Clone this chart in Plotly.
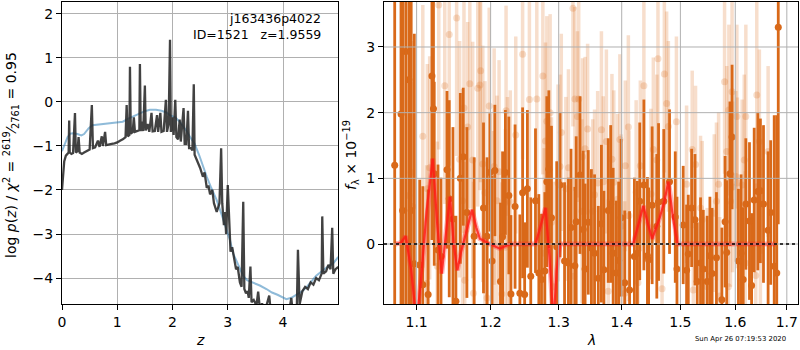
import math
import plotly.graph_objects as go

# ---------------- left panel: p(z) ----------------
z_pz = [0.00, 0.02, 0.04, 0.07, 0.10, 0.12, 0.13, 0.14, 0.17, 0.20, 0.235, 0.25, 0.28, 0.30, 0.32, 0.36,
        0.40, 0.45, 0.50, 0.54, 0.56, 0.60, 0.65, 0.68, 0.72, 0.74, 0.78, 0.80, 0.85, 0.90, 0.95, 1.00,
        1.05, 1.10, 1.15, 1.17, 1.19, 1.22, 1.23, 1.245, 1.28, 1.30, 1.32, 1.36, 1.40, 1.41, 1.425, 1.45,
        1.47, 1.50, 1.515, 1.55, 1.58, 1.62, 1.64, 1.68, 1.72, 1.74, 1.78, 1.80, 1.84, 1.88, 1.90, 1.93,
        1.955, 1.97, 2.00, 2.02, 2.05, 2.07, 2.10, 2.13, 2.15, 2.20, 2.22, 2.25, 2.28, 2.30, 2.33, 2.36,
        2.385, 2.40, 2.45, 2.50, 2.55, 2.58, 2.62, 2.65, 2.68, 2.72, 2.75, 2.80, 2.85, 2.88, 2.90, 2.93,
        2.95, 2.97, 3.00, 3.02, 3.05, 3.08, 3.12, 3.15, 3.18, 3.22, 3.25, 3.28, 3.30, 3.33, 3.36, 3.38,
        3.41, 3.43, 3.47, 3.52, 3.55, 3.58, 3.62, 3.68, 3.75, 3.78, 3.85, 3.95, 4.05, 4.10, 4.15, 4.18,
        4.25, 4.27, 4.30, 4.35, 4.40, 4.45, 4.50, 4.55, 4.60, 4.65, 4.70, 4.71, 4.73, 4.78, 4.82, 4.86,
        4.89, 4.91, 4.95, 5.00]
logp = [-2.00, -1.60, -1.35, -1.22, -1.17, -1.15, -0.42, -1.15, -1.18, -1.16, -0.25, -1.15, -1.12, -0.80, -1.15, -1.18,
        -1.15, -1.12, -1.08, -0.07, -1.05, -1.03, -0.88, -1.02, -0.78, -1.00, -0.68, -0.98, -0.96, -0.95, -0.94, -0.92,
        -0.88, -0.85, -0.80, -0.07, -0.78, -0.75, 0.80, -0.72, -0.68, -0.35, -0.68, -0.66, -0.64, 0.86, -0.66, -0.45,
        -0.66, 0.37, -0.65, -0.50, -0.68, -0.25, -0.67, -0.66, -0.30, -0.68, -0.25, -0.68, -0.66, 0.05, -0.68, -0.50,
        1.41, -0.68, -0.35, -0.75, 0.05, -0.80, -0.85, -0.40, -0.90, -0.14, -0.95, -0.95, -0.20, -1.05, -1.05, -1.10,
        0.40, -1.20, -1.35, -1.50, -1.70, -1.60, -1.95, -1.90, -2.10, -2.00, -2.30, -2.50, -2.30, -1.05, -2.30, -2.80,
        -2.50, -3.00, -1.89, -2.60, -3.40, -3.30, -3.55, -3.80, -3.75, -4.10, -4.20, -2.27, -4.25, -4.35, -4.30, -4.45,
        -3.74, -4.55, -4.50, -4.62, -4.31, -4.68, -4.58, -4.72, -4.40, -4.78, -4.85, -4.90, -4.80, -4.85, -4.45, -4.85,
        -4.70, -3.36, -4.60, -4.30, -4.20, -4.25, -4.10, -4.15, -4.00, -4.05, -3.90, -2.60, -3.90, -3.85, -3.70, -3.80,
        -2.86, -3.90, -3.80, -3.75]

z_smooth = [0.00, 0.05, 0.10, 0.15, 0.20, 0.28, 0.35, 0.40, 0.48, 0.55, 0.62, 0.75, 0.85, 0.99, 1.10, 1.20,
            1.29, 1.40, 1.50, 1.59, 1.70, 1.80, 1.89, 1.95, 2.05, 2.13, 2.25, 2.32, 2.40, 2.48, 2.55, 2.62,
            2.70, 2.80, 2.90, 3.00, 3.04, 3.10, 3.20, 3.28, 3.35, 3.45, 3.58, 3.70, 3.80, 3.90, 4.00, 4.06,
            4.15, 4.25, 4.35, 4.43, 4.50, 4.60, 4.73, 4.80, 4.90, 5.00]
logp_smooth = [-1.12, -0.95, -0.80, -0.72, -0.71, -0.73, -0.76, -0.73, -0.60, -0.53, -0.52, -0.50, -0.50, -0.48, -0.45, -0.38,
               -0.33, -0.27, -0.21, -0.18, -0.18, -0.20, -0.24, -0.30, -0.35, -0.45, -0.65, -0.80, -0.95, -1.20, -1.47, -1.70,
               -1.95, -2.23, -2.60, -3.00, -3.14, -3.45, -3.75, -3.95, -4.05, -4.10, -4.17, -4.25, -4.33, -4.38, -4.44, -4.48,
               -4.45, -4.38, -4.30, -4.20, -4.10, -3.95, -3.82, -3.75, -3.68, -3.52]

z_ticks = [0, 1, 2, 3, 4]
logp_ticks = [-4, -3, -2, -1, 0, 1, 2]

# ---------------- right panel: 1D spectrum ----------------
wave_dark = [1.072, 1.080, 1.082, 1.086, 1.090, 1.093, 1.097, 1.104, 1.108, 1.115, 1.120, 1.122, 1.123, 1.128, 1.132,
             1.140, 1.143, 1.148, 1.152, 1.158, 1.162, 1.167, 1.177, 1.190, 1.195, 1.199, 1.202, 1.206, 1.214, 1.217,
             1.221, 1.226, 1.229, 1.235, 1.242, 1.246, 1.249, 1.253, 1.258, 1.265, 1.270, 1.274, 1.279, 1.282, 1.285,
             1.289, 1.297, 1.302, 1.309, 1.315, 1.319, 1.325, 1.327, 1.333, 1.338, 1.341, 1.346, 1.351, 1.356, 1.362,
             1.367, 1.371, 1.378, 1.382, 1.386, 1.391, 1.395, 1.399, 1.405, 1.413, 1.421, 1.426, 1.430, 1.437, 1.443,
             1.445, 1.451, 1.459, 1.462, 1.471, 1.481, 1.491, 1.494, 1.505, 1.511, 1.514, 1.520, 1.526, 1.530, 1.536,
             1.541, 1.548, 1.553, 1.557, 1.565, 1.575, 1.581, 1.584, 1.590, 1.594, 1.606, 1.611, 1.615, 1.620, 1.627,
             1.631, 1.636, 1.643, 1.648, 1.654, 1.663, 1.668, 1.675, 1.680, 1.683]
flux_dark = [1.20, 1.98, 0.51, 2.93, 2.50, 0.51, -0.30, -0.32, -0.62, -0.77, 2.56, 2.06, 1.07, -0.09, -0.19,
             1.13, 0.69, 0.38, -0.87, 1.00, 1.33, 0.48, 0.12, 0.55, 0.12, 1.09, -0.26, 1.12, -0.57, 0.11,
             1.09, 0.74, -0.76, 0.57, -0.75, 0.78, -0.77, 0.84, -0.49, 0.66, -0.44, -0.54, -0.41, 0.95, 1.14,
             0.40, -0.04, 0.90, -0.26, -0.29, 0.25, -0.33, 0.34, 1.05, 0.22, -0.38, 0.33, -0.06, -0.14, -0.52,
             0.31, -0.39, 0.51, 0.61, -0.14, -0.44, -0.25, 0.40, -0.59, -0.70, -0.19, -0.14, 0.65, 0.90, -0.18,
             -0.24, 0.59, 0.27, 0.64, 0.65, 0.95, 0.41, -0.38, 0.29, -0.40, -0.15, 0.55, 0.37, -0.57, -0.29,
             -0.38, -0.57, -0.18, -0.45, -0.21, -0.85, 0.34, -0.13, 1.07, 1.63, -0.26, -0.14, -0.54, 0.61, 0.35,
             -0.63, 0.67, 0.80, 0.81, 0.61, 0.21, 0.48, -0.34, -0.44, 3.30]
err_dark = [4.0, 4.0, 4.0, 4.0, 4.0, 4.0, 3.5, 1.3, 1.5, 1.6, 2.5, 1.8, 1.4, 1.3, 1.2,
            1.2, 1.5, 1.4, 1.3, 1.3, 1.05, 1.3, 1.2, 1.3, 1.2, 0.9, 1.3, 1.0, 1.2, 1.3,
            0.95, 1.2, 1.2, 1.25, 1.2, 1.3, 1.1, 1.2, 1.2, 1.1, 1.2, 1.0, 1.2, 1.3, 1.2,
            1.4, 1.3, 1.1, 1.2, 1.3, 1.2, 1.2, 1.3, 1.2, 1.2, 1.3, 1.1, 1.2, 1.2, 1.1,
            1.2, 1.2, 1.1, 1.2, 1.3, 1.1, 1.2, 1.2, 1.1, 1.2, 1.2, 1.1, 1.2, 1.3, 1.2,
            1.1, 1.2, 1.1, 1.2, 1.1, 1.1, 1.0, 1.1, 0.9, 1.0, 0.9, 0.9, 1.0, 0.9, 1.0,
            0.9, 1.0, 0.9, 1.0, 1.0, 1.1, 1.0, 1.1, 1.1, 1.1, 1.1, 1.2, 1.1, 1.0, 1.2,
            1.1, 1.1, 1.2, 1.1, 1.2, 1.2, 1.1, 2.3, 2.4, 3.0]

wave_light = [1.090, 1.093, 1.095, 1.108, 1.113, 1.114, 1.117, 1.127, 1.129, 1.137, 1.143, 1.153, 1.157, 1.161,
              1.163, 1.164, 1.168, 1.171, 1.175, 1.176, 1.182, 1.185, 1.186, 1.189, 1.192, 1.195, 1.198, 1.204,
              1.205, 1.209, 1.212, 1.216, 1.221, 1.222, 1.224, 1.228, 1.236, 1.246, 1.256, 1.267, 1.276, 1.278,
              1.280, 1.282, 1.287, 1.289, 1.292, 1.299, 1.302, 1.304, 1.311, 1.315, 1.322, 1.323, 1.325, 1.329,
              1.331, 1.336, 1.337, 1.341, 1.345, 1.353, 1.356, 1.361, 1.367, 1.370, 1.375, 1.378, 1.384, 1.387,
              1.393, 1.397, 1.399, 1.405, 1.406, 1.411, 1.412, 1.424, 1.427, 1.431, 1.437, 1.449, 1.453, 1.459,
              1.461, 1.468, 1.472, 1.476, 1.479, 1.493, 1.511, 1.521, 1.523, 1.527, 1.536, 1.539, 1.548, 1.561,
              1.565, 1.569, 1.571, 1.580, 1.584, 1.587, 1.588, 1.591, 1.594, 1.595, 1.601, 1.603, 1.604, 1.613,
              1.617, 1.619, 1.620, 1.639, 1.641, 1.646, 1.648, 1.663]
flux_light = [0.74, 1.09, 0.57, 1.64, -0.60, 0.84, 1.16, -0.34, 3.64, 2.41, 3.19, 3.44, 1.29, 0.66,
              2.07, -0.55, 1.78, 2.44, 1.28, -0.75, 2.37, 2.42, 2.64, 1.22, 0.78, -0.82, 2.10, 0.02,
              1.18, 0.66, 1.10, -0.76, -0.05, 2.03, 0.64, 0.64, 1.66, 2.89, 2.20, 2.21, 2.56, -0.14,
              1.57, 1.87, 2.00, 0.33, -0.65, 0.93, 1.18, 1.70, 0.84, 1.16, 3.59, -0.49, 2.21, 1.94,
              2.21, 0.50, 1.33, 1.45, 1.75, 0.50, 0.75, 0.93, 1.74, 0.95, 1.56, -0.72, 1.29, 0.94,
              0.68, 1.59, 0.27, -0.75, 1.19, 1.78, 0.43, 0.79, -0.59, 1.19, 2.41, 0.76, 1.44, 1.28,
              2.82, -0.68, 2.59, 2.14, 1.79, 1.86, 0.91, 1.44, -0.70, 1.21, 0.55, 0.37, -0.65, 0.47,
              0.65, 0.91, -0.79, 2.47, 1.41, -0.65, 2.04, 0.65, 2.32, 0.87, 1.03, 1.94, 0.93, 0.90,
              1.28, -0.29, 1.94, -0.48, 2.27, 1.56, -0.10, 1.41]
err_light = [1.8, 2.0, 1.9, 2.0, 1.8, 1.9, 1.7, 1.9, 2.2, 1.8, 2.0, 2.1, 1.8, 1.7,
             1.9, 1.8, 1.6, 1.9, 1.8, 1.7, 1.8, 1.6, 1.7, 1.8, 1.7, 1.8, 1.5, 1.7,
             1.8, 1.6, 1.7, 1.7, 1.8, 1.6, 1.6, 1.7, 1.5, 1.6, 1.5, 1.6, 1.5, 1.6,
             1.5, 1.6, 1.5, 1.6, 1.6, 1.5, 1.4, 1.5, 1.4, 1.5, 1.8, 1.5, 1.4, 1.3,
             1.5, 1.4, 1.5, 1.4, 1.3, 1.4, 1.3, 1.4, 1.5, 1.3, 1.4, 1.4, 1.3, 1.4,
             1.3, 1.3, 1.4, 1.4, 1.3, 1.4, 1.3, 1.4, 1.3, 1.3, 1.5, 1.3, 1.4, 1.3,
             1.6, 1.3, 1.5, 1.4, 1.3, 1.3, 1.2, 1.2, 1.2, 1.2, 1.1, 1.2, 1.2, 1.2,
             1.2, 1.1, 1.2, 1.4, 1.3, 1.3, 1.3, 1.3, 1.5, 1.3, 1.3, 1.4, 1.3, 1.3,
             1.3, 1.4, 1.4, 1.4, 1.5, 1.4, 1.4, 1.3]

wave_model = [1.073, 1.080, 1.086, 1.093, 1.100, 1.106, 1.113, 1.121, 1.127, 1.133, 1.138, 1.144, 1.149, 1.154,
              1.159, 1.166, 1.174, 1.180, 1.185, 1.199, 1.213, 1.228, 1.265, 1.272, 1.280, 1.286, 1.292, 1.297,
              1.302, 1.419, 1.428, 1.436, 1.444, 1.451, 1.464, 1.472, 1.479, 1.487, 1.495, 1.678]
flux_model = [0.00, 0.02, 0.12, -0.40, -1.20, -0.50, 0.50, 1.30, 0.30, -0.45, 0.10, 0.72, 0.00, -0.40,
              -0.12, 0.20, 0.52, 0.25, 0.08, 0.00, -0.07, 0.00, 0.00, 0.25, 0.55, -0.20, -1.20, -0.40,
              0.00, 0.00, 0.30, 0.58, 0.30, 0.08, 0.40, 0.65, 0.95, 0.40, 0.00, 0.00]

wave_ticks = [1.1, 1.2, 1.3, 1.4, 1.5, 1.6, 1.7]
flux_ticks = [0, 1, 2, 3]

# ---------------- styling ----------------
FONT = "DejaVu Sans"
GRID = "#b0b0b0"
DARK = "rgb(217,105,25)"
LIGHT = "rgba(217,105,25,0.22)"

W, H = 800, 350
L_X = [62 / W, 338 / W]
R_X = [384 / W, 798 / W]
Y_DOM = [1 - 304 / H, 1 - 2 / H]

wave_range = [math.log10(1.0586), math.log10(1.7225)]

fig = go.Figure()

fig.add_trace(go.Scatter(x=z_smooth, y=logp_smooth, mode="lines",
                         line=dict(color="rgba(31,119,180,0.5)", width=2),
                         xaxis="x", yaxis="y", showlegend=False, hoverinfo="skip"))
fig.add_trace(go.Scatter(x=z_pz, y=logp, mode="lines",
                         line=dict(color="rgba(40,40,40,0.88)", width=2.3),
                         xaxis="x", yaxis="y", showlegend=False, hoverinfo="skip"))

fig.add_trace(go.Scatter(x=wave_light, y=flux_light, mode="markers",
                         marker=dict(color=LIGHT, size=7, line=dict(width=0)),
                         error_y=dict(type="data", array=err_light, color=LIGHT, thickness=3.5, width=0),
                         xaxis="x2", yaxis="y2", showlegend=False, hoverinfo="skip"))
fig.add_trace(go.Scatter(x=wave_dark, y=flux_dark, mode="markers",
                         marker=dict(color=DARK, size=7, line=dict(width=0)),
                         error_y=dict(type="data", array=err_dark, color=DARK, thickness=2.8, width=0),
                         xaxis="x2", yaxis="y2", showlegend=False, hoverinfo="skip"))
fig.add_trace(go.Scatter(x=wave_model, y=flux_model, mode="lines",
                         line=dict(color="rgba(255,40,40,0.35)", width=5),
                         xaxis="x2", yaxis="y2", showlegend=False, hoverinfo="skip"))
fig.add_trace(go.Scatter(x=wave_model, y=flux_model, mode="lines",
                         line=dict(color="rgba(255,25,20,0.8)", width=2.2),
                         xaxis="x2", yaxis="y2", showlegend=False, hoverinfo="skip"))

axis_common = dict(showline=True, linecolor="black", linewidth=1, mirror=True,
                   ticks="outside", ticklen=5, tickwidth=1, tickcolor="black",
                   tickfont=dict(family=FONT, size=14, color="black"), zeroline=False,
                   automargin=False)

fig.update_layout(
    width=W, height=H, margin=dict(l=0, r=0, t=0, b=0, pad=0, autoexpand=False),
    paper_bgcolor="white", plot_bgcolor="white", showlegend=False,
    font=dict(family=FONT, color="black"),
    xaxis=dict(domain=L_X, anchor="y", range=[0, 4.995], tickvals=z_ticks,
               showgrid=True, gridcolor=GRID, gridwidth=1, **axis_common),
    yaxis=dict(domain=Y_DOM, anchor="x", range=[-4.59, 2.27], tickvals=logp_ticks,
               showgrid=True, gridcolor=GRID, gridwidth=1, **axis_common),
    xaxis2=dict(domain=R_X, anchor="y2", type="log", range=wave_range, tickvals=wave_ticks,
                ticktext=[f"{v:.1f}" for v in wave_ticks], showgrid=False, **axis_common),
    yaxis2=dict(domain=Y_DOM, anchor="x2", range=[-0.913, 3.685], tickvals=flux_ticks,
                showgrid=False, **axis_common),
)

shapes = []
for v in wave_ticks:
    shapes.append(dict(type="line", xref="x2", yref="y2 domain", x0=v, x1=v, y0=0, y1=1,
                       line=dict(color=GRID, width=1), layer="above"))
for v in flux_ticks:
    shapes.append(dict(type="line", xref="x2 domain", yref="y2", x0=0, x1=1, y0=v, y1=v,
                       line=dict(color=GRID, width=1), layer="above"))
shapes.append(dict(type="line", xref="x2 domain", yref="y2", x0=0, x1=1, y0=0, y1=0,
                   line=dict(color="black", width=1.5, dash="dot"), layer="above"))
fig.update_layout(shapes=shapes)

annos = [
    dict(text="j163436p4022", x=323 / W, y=1 - 19 / H, xref="paper", yref="paper",
         xanchor="right", yanchor="middle", showarrow=False, font=dict(size=12.5, family=FONT)),
    dict(text="ID=1521\u00a0\u00a0\u00a0z=1.9559", x=323 / W, y=1 - 35 / H, xref="paper", yref="paper",
         xanchor="right", yanchor="middle", showarrow=False, font=dict(size=12.5, family=FONT)),
    dict(text="<i>z</i>", x=200 / W, y=1 - 340 / H, xref="paper", yref="paper",
         xanchor="center", yanchor="middle", showarrow=False, font=dict(size=14, family=FONT)),
    dict(text="<i>λ</i>", x=591 / W, y=1 - 340 / H, xref="paper", yref="paper",
         xanchor="center", yanchor="middle", showarrow=False, font=dict(size=14, family=FONT)),
    dict(text="log <i>p</i>(<i>z</i>) / <i>χ</i><sup>2</sup> = <sup>2619</sup>⁄<sub>2761</sub> = 0.95",
         x=11 / W, y=1 - 155 / H, xref="paper", yref="paper", textangle=-90,
         xanchor="center", yanchor="middle", showarrow=False, font=dict(size=14, family=FONT)),
    dict(text="<i>f</i><sub>λ</sub> × 10<sup>−19</sup>",
         x=351 / W, y=1 - 155 / H, xref="paper", yref="paper", textangle=-90,
         xanchor="center", yanchor="middle", showarrow=False, font=dict(size=14, family=FONT)),
    dict(text="Sun Apr 26 07:19:53 2020", x=788 / W, y=1 - 339 / H, xref="paper", yref="paper",
         xanchor="right", yanchor="middle", showarrow=False, font=dict(size=6.9, family=FONT)),
]
fig.update_layout(annotations=annos)

fig.write_html("out.html", config={"displayModeBar": False},
               post_script="document.body.style.margin='0';document.body.style.overflow='hidden';")
